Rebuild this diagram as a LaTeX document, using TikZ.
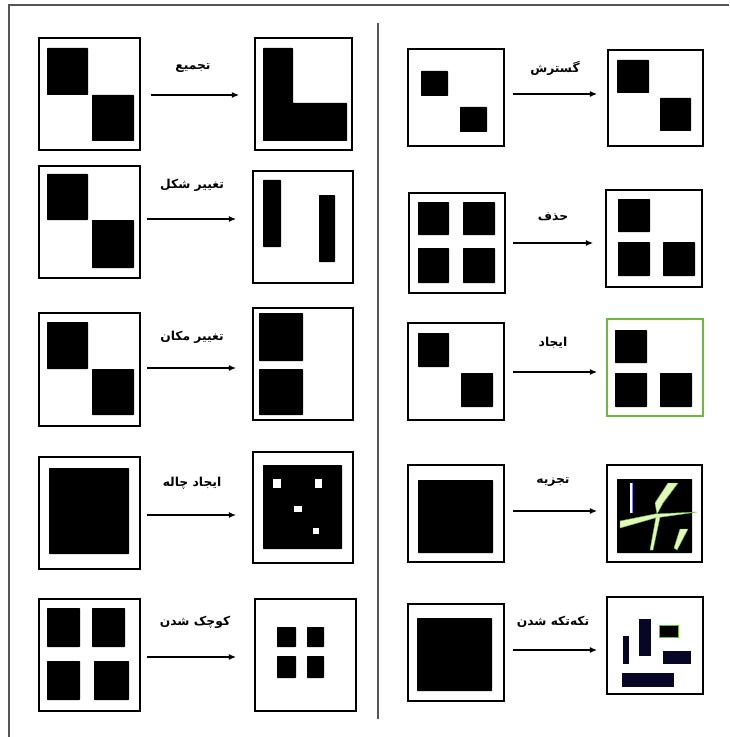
\documentclass[tikz,border=0pt]{standalone}
\usepackage{fontspec}
\newfontfamily\fa[Script=Arabic]{DejaVu Sans}
\TeXXeTstate=1
\usetikzlibrary{arrows.meta,fit}
\definecolor{framegray}{RGB}{85,85,85}
\definecolor{edgegreen}{RGB}{110,185,60}
\definecolor{shard}{RGB}{225,250,185}
\definecolor{piece}{RGB}{6,6,38}

\begin{document}
\begin{tikzpicture}[x=0.03cm,y=-0.03cm,>={Latex[length=6pt,width=5pt]},
  frame/.style={draw,line width=1.4pt,inner sep=0pt},
  arr/.style={->,line width=0.9pt},
  lbl/.style={font=\fa\bfseries\fontsize{10.5}{12}\selectfont},
  blk/.style={fill=black,rounded corners=0.6pt}]
\useasboundingbox (0,0) rectangle (729,737);
\draw[framegray,line width=1.4pt] (729,5) -- (9,5) -- (9,737);
\draw[framegray,line width=0.9pt] (378,23) -- (378,719);

% left column
\node[frame,fit={(39,38)(140,150)}] (a1) {};
\fill[blk] (47,48) rectangle (88,95); \fill[blk] (92,95) rectangle (134,141);
\node[frame,fit={(255,38)(352,150)}] (b1) {};
\fill[blk] (263,48) -- (293,48) -- (293,103) -- (347,103) -- (347,141) -- (263,141) -- cycle;
\coordinate (s1) at (151,95); \coordinate (t1) at (239,95);
\draw[arr] (s1) -- (t1);
\node[lbl] (l1) at (193,68) {\beginR تجمیع\endR};

\node[frame,fit={(39,166)(140,278)}] (a2) {};
\fill[blk] (47,174) rectangle (88,220); \fill[blk] (92,220) rectangle (134,268);
\node[frame,fit={(253,171)(353,283)}] (b2) {};
\fill[blk] (263,180) rectangle (281,247); \fill[blk] (319,195) rectangle (335,262);
\coordinate (s2) at (147,219); \coordinate (t2) at (236,219);
\draw[arr] (s2) -- (t2);
\node[lbl] (l2) at (192,185) {\beginR تغییر شکل\endR};

\node[frame,fit={(39,313)(140,426)}] (a3) {};
\fill[blk] (47,322) rectangle (88,369); \fill[blk] (92,369) rectangle (134,415);
\node[frame,fit={(253,308)(353,420)}] (b3) {};
\fill[blk] (259,313) rectangle (303,361); \fill[blk] (259,369) rectangle (303,415);
\coordinate (s3) at (147,368); \coordinate (t3) at (236,368);
\draw[arr] (s3) -- (t3);
\node[lbl] (l3) at (192,337) {\beginR تغییر مکان\endR};

\node[frame,fit={(39,457)(140,569)}] (a4) {};
\fill[blk] (49,468) rectangle (129,554);
\node[frame,fit={(253,452)(353,563)}] (b4) {};
\fill[blk] (263,465) rectangle (342,549);
\fill[white] (273,479) rectangle (281,488); \fill[white] (315,479) rectangle (322,488);
\fill[white] (294,506) rectangle (302,512); \fill[white] (313,528) rectangle (319,534);
\coordinate (s4) at (147,515); \coordinate (t4) at (236,515);
\draw[arr] (s4) -- (t4);
\node[lbl] (l4) at (192,483) {\beginR ایجاد چاله\endR};

\node[frame,fit={(39,599)(140,711)}] (a5) {};
\fill[blk] (47,608) rectangle (80,647); \fill[blk] (92,608) rectangle (125,647);
\fill[blk] (47,661) rectangle (80,700); \fill[blk] (94,661) rectangle (129,700);
\node[frame,fit={(255,599)(356,711)}] (b5) {};
\fill[blk] (277,627) rectangle (296,647); \fill[blk] (307,627) rectangle (324,647);
\fill[blk] (277,656) rectangle (296,678); \fill[blk] (307,656) rectangle (324,678);
\coordinate (s5) at (147,657); \coordinate (t5) at (236,657);
\draw[arr] (s5) -- (t5);
\node[lbl] (l5) at (195,622) {\beginR کوچک شدن\endR};

% right column
\node[frame,fit={(408,49)(504,146)}] (c1) {};
\fill[blk] (421,71) rectangle (448,96); \fill[blk] (460,107) rectangle (487,132);
\node[frame,fit={(608,50)(703,146)}] (d1) {};
\fill[blk] (617,60) rectangle (649,93); \fill[blk] (660,98) rectangle (691,131);
\coordinate (u1) at (513,94); \coordinate (v1) at (597,94);
\draw[arr] (u1) -- (v1);
\node[lbl] (m1) at (555,68) {\beginR گسترش\endR};

\node[frame,fit={(409,193)(505,293)}] (c2) {};
\fill[blk] (418,202) rectangle (449,235); \fill[blk] (463,202) rectangle (495,235);
\fill[blk] (418,248) rectangle (449,283); \fill[blk] (463,248) rectangle (495,283);
\node[frame,fit={(606,190)(702,287)}] (d2) {};
\fill[blk] (618,199) rectangle (650,232);
\fill[blk] (618,242) rectangle (650,276); \fill[blk] (663,242) rectangle (695,276);
\coordinate (u2) at (513,243); \coordinate (v2) at (593,243);
\draw[arr] (u2) -- (v2);
\node[lbl] (m2) at (553,217) {\beginR حذف\endR};

\node[frame,fit={(408,323)(504,420)}] (c3) {};
\fill[blk] (418,333) rectangle (449,367); \fill[blk] (461,373) rectangle (493,407);
\node[frame,draw=edgegreen,line width=1.1pt,fit={(607,319)(703,416)}] (d3) {};
\fill[blk] (615,330) rectangle (647,363);
\fill[blk] (615,373) rectangle (647,407); \fill[blk] (660,373) rectangle (692,407);
\coordinate (u3) at (513,372); \coordinate (v3) at (597,372);
\draw[arr] (u3) -- (v3);
\node[lbl] (m3) at (553,343) {\beginR ایجاد\endR};

\node[frame,fit={(408,465)(504,562)}] (c4) {};
\fill[blk] (418,480) rectangle (493,553);
\node[frame,fit={(607,465)(702,562)}] (d4) {};
\fill[blk] (617,479) rectangle (692,553);
\draw[white,line width=1.2pt] (631,483) -- (631,513);
\draw[blue!50,line width=0.3pt] (632,483) -- (632,513);
\filldraw[fill=shard,draw=edgegreen,line width=0.4pt] (668,483) -- (678,483) -- (663,503) -- (657,514) -- (655,503) -- cycle;
\filldraw[fill=shard,draw=edgegreen,line width=0.4pt] (620,521) -- (655,514) -- (697,512) -- (655,518) -- (620,528) -- cycle;
\filldraw[fill=shard,draw=edgegreen,line width=0.4pt] (656,517) -- (660,517) -- (653,550) -- (650,550) -- cycle;
\filldraw[fill=shard,draw=edgegreen,line width=0.4pt] (680,529) -- (688,529) -- (677,550) -- (674,548) -- cycle;
\coordinate (u4) at (513,511); \coordinate (v4) at (597,511);
\draw[arr] (u4) -- (v4);
\node[lbl] (m4) at (553,482) {\beginR تجزیه\endR};

\node[frame,fit={(408,604)(504,701)}] (c5) {};
\fill[blk] (417,618) rectangle (492,691);
\node[frame,fit={(607,597)(703,694)}] (d5) {};
\fill[piece] (623,636) rectangle (629,664);
\fill[piece] (639,619) rectangle (651,656);
\filldraw[fill=black,draw=edgegreen,line width=0.5pt] (659,625) rectangle (678,637);
\fill[piece] (663,651) rectangle (691,664);
\fill[piece] (622,673) rectangle (674,687);
\coordinate (u5) at (513,650); \coordinate (v5) at (597,650);
\draw[arr] (u5) -- (v5);
\node[lbl] (m5) at (553,622) {\beginR تکه‌تکه شدن\endR};
\end{tikzpicture}
\end{document}
